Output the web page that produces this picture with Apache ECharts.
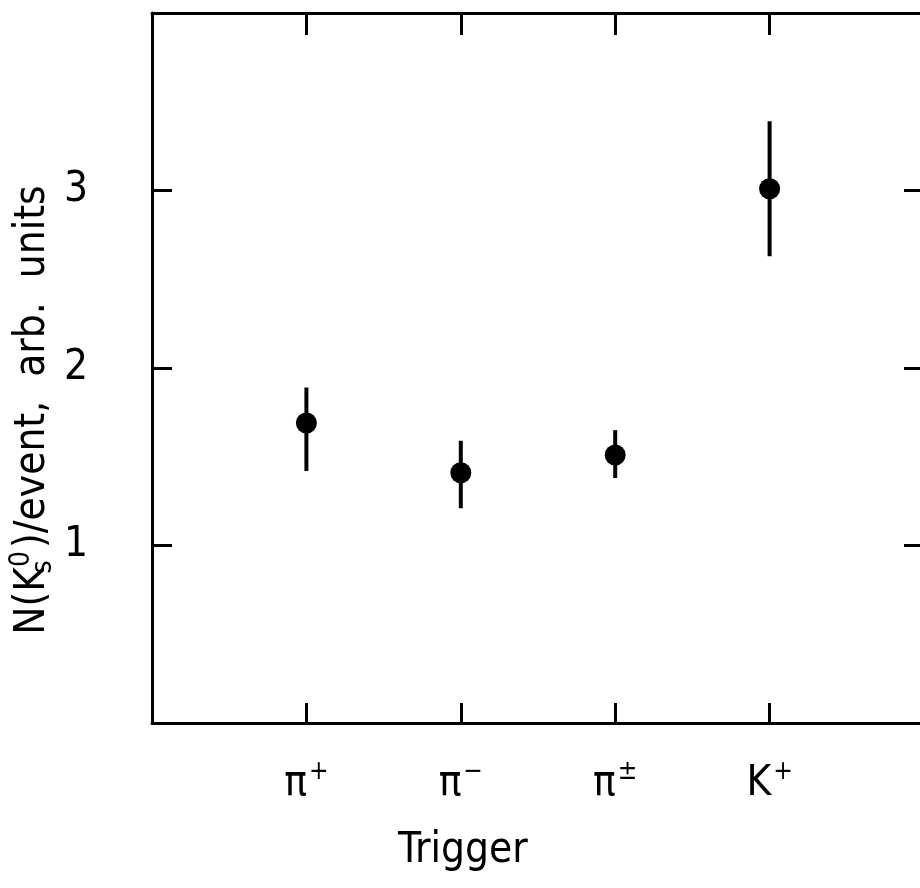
<!DOCTYPE html>
<html>
<head>
<meta charset="utf-8">
<script src="https://cdn.jsdelivr.net/npm/echarts@6/dist/echarts.min.js"></script>
<style>
  html, body { margin: 0; padding: 0; background: #fff; }
  #chart { width: 920px; height: 888px; }
</style>
</head>
<body>
<div id="chart"></div>
<script>
// trigger particles, placed at x = 1..4
var categories = ['π+', 'π−', 'π±', 'K+'];
var labelBase = ['π', 'π', 'π', 'K'];
var labelSup = ['+', '−', '±', '+'];
var values = [1.69, 1.41, 1.51, 3.01];
var errLow = [1.42, 1.21, 1.38, 2.63];
var errHigh = [1.89, 1.59, 1.65, 3.39];
var yTicks = [1, 2, 3];

var font = '"DejaVu Sans Condensed", "DejaVu Sans", sans-serif';

var chart = echarts.init(document.getElementById('chart'));

var points = categories.map(function (c, i) { return [i + 1, values[i]]; });
var bars = categories.map(function (c, i) { return [i + 1, errLow[i], errHigh[i]]; });

var frameLine = { onZero: false, lineStyle: { color: '#000', width: 3 } };

var option = {
  animation: false,
  backgroundColor: '#fff',
  grid: { left: 152, top: 13, width: 772, height: 710, containLabel: false, outerBoundsMode: 'none' },
  xAxis: [
    {
      type: 'value', position: 'bottom', min: 0, max: 5, interval: 1,
      axisLine: frameLine,
      axisTick: { inside: true, length: 20, lineStyle: { color: '#000', width: 3 } },
      splitLine: { show: false },
      axisLabel: {
        margin: 36,
        formatter: function (v) {
          var i = v - 1;
          if (i < 0 || i >= categories.length) return '';
          return '{b|' + labelBase[i] + '}{s|' + labelSup[i] + '}';
        },
        rich: {
          b: { fontFamily: font, fontSize: 42, color: '#000', lineHeight: 46, verticalAlign: 'bottom' },
          s: { fontFamily: font, fontSize: 26, color: '#000', lineHeight: 46, verticalAlign: 'top', padding: [0, 0, 18, 2] }
        }
      }
    },
    {
      type: 'value', position: 'top', min: 0, max: 5, interval: 1,
      axisLine: frameLine,
      axisTick: { inside: true, length: 22, lineStyle: { color: '#000', width: 3 } },
      axisLabel: { show: false },
      splitLine: { show: false }
    }
  ],
  yAxis: [
    {
      type: 'value', position: 'left', min: 0, max: 4, interval: 1,
      axisLine: frameLine,
      axisTick: { inside: true, length: 20, lineStyle: { color: '#000', width: 3 } },
      splitLine: { show: false },
      axisLabel: {
        margin: 64, fontFamily: font, fontSize: 42, color: '#000',
        formatter: function (v) { return yTicks.indexOf(v) >= 0 ? String(v) : ''; }
      },
      name: '{n|N(K}{sub|s}{sup|0}{n|)/event,  arb.  units}',
      nameLocation: 'middle',
      nameGap: 94,
      nameMoveOverlap: false,
      nameRotate: 90,
      nameTextStyle: {
        padding: [0, 84, 0, 0],
        rich: {
          n: { fontFamily: font, fontSize: 42, color: '#000', lineHeight: 50, verticalAlign: 'middle' },
          sub: { fontFamily: font, fontSize: 28, color: '#000', lineHeight: 50, width: 0, verticalAlign: 'bottom' },
          sup: { fontFamily: font, fontSize: 28, color: '#000', lineHeight: 50, verticalAlign: 'top', padding: [0, 3, 0, 0] }
        }
      }
    },
    {
      type: 'value', position: 'right', min: 0, max: 4, interval: 1,
      axisLine: frameLine,
      axisTick: { inside: true, length: 20, lineStyle: { color: '#000', width: 3 } },
      axisLabel: { show: false },
      splitLine: { show: false }
    }
  ],
  graphic: [
    {
      type: 'text', left: 398, top: 830,
      style: { text: 'Trigger', fontFamily: font, fontSize: 42, fill: '#000' }
    }
  ],
  series: [
    {
      // error bars
      type: 'custom',
      xAxisIndex: 0, yAxisIndex: 0,
      data: bars,
      renderItem: function (params, api) {
        var lo = api.coord([api.value(0), api.value(1)]);
        var hi = api.coord([api.value(0), api.value(2)]);
        return {
          type: 'line',
          shape: { x1: lo[0], y1: lo[1], x2: hi[0], y2: hi[1] },
          style: { stroke: '#000', lineWidth: 4 }
        };
      },
      z: 2
    },
    {
      type: 'scatter',
      xAxisIndex: 0, yAxisIndex: 0,
      data: points,
      symbol: 'circle',
      symbolSize: 21,
      itemStyle: { color: '#000', opacity: 1 },
      z: 3
    }
  ]
};

chart.setOption(option);
</script>
</body>
</html>
